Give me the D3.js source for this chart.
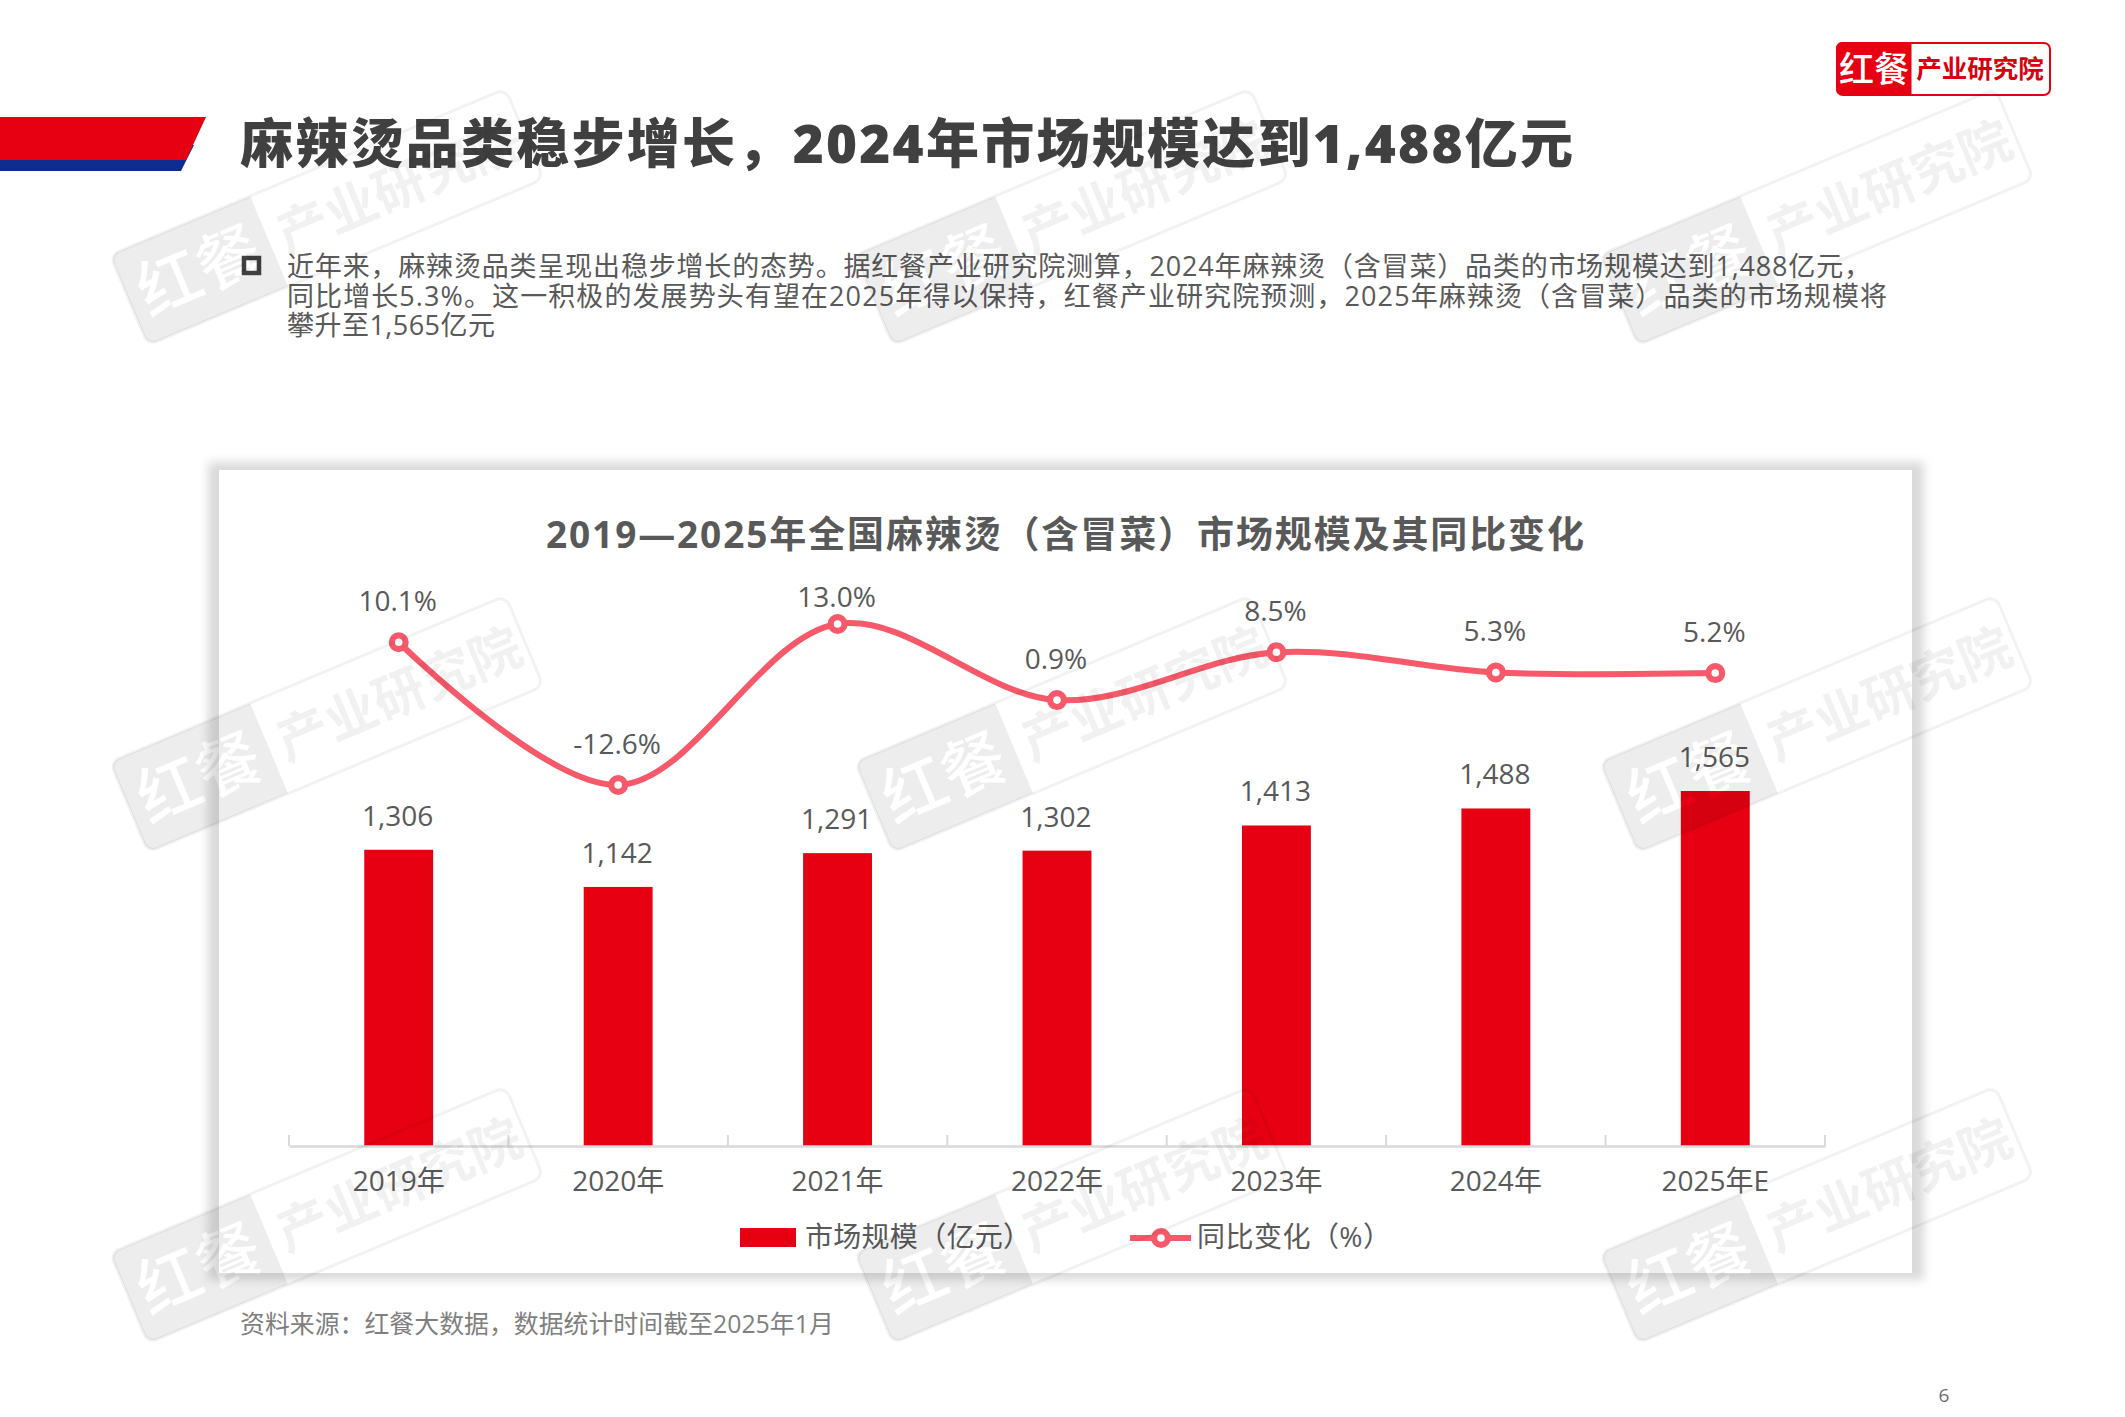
<!DOCTYPE html>
<html lang="zh"><head><meta charset="utf-8">
<script src="https://cdn.jsdelivr.net/npm/d3@7/dist/d3.min.js"></script>
<style>
html,body{margin:0;padding:0;background:#fff}
svg{display:block}
text{font-family:"Open Sans","Noto Sans CJK SC",sans-serif}
</style></head><body>
<svg id="c" width="2125" height="1417" viewBox="0 0 2125 1417"></svg>
<script>
const categories = ["2019年","2020年","2021年","2022年","2023年","2024年","2025年E"];
const marketSize = [1306,1142,1291,1302,1413,1488,1565];
const yoyChange = [10.1,-12.6,13.0,0.9,8.5,5.3,5.2];
const seriesNames = ["市场规模（亿元）","同比变化（%）"];
const pageTitle = "麻辣烫品类稳步增长，2024年市场规模达到1,488亿元";
const chartTitle = "2019—2025年全国麻辣烫（含冒菜）市场规模及其同比变化";
const bodyLines = [
 "近年来，麻辣烫品类呈现出稳步增长的态势。据红餐产业研究院测算，2024年麻辣烫（含冒菜）品类的市场规模达到1,488亿元，",
 "同比增长5.3%。这一积极的发展势头有望在2025年得以保持，红餐产业研究院预测，2025年麻辣烫（含冒菜）品类的市场规模将",
 "攀升至1,565亿元"];
const sourceNote = "资料来源：红餐大数据，数据统计时间截至2025年1月";

const RED="#E60012", BLUE="#0F2C8F", LINE="#F5596A";
const svg=d3.select("#c");
const defs=svg.append("defs");
defs.append("filter").attr("id","sh").attr("x","-5%").attr("y","-8%").attr("width","110%").attr("height","116%")
  .append("feGaussianBlur").attr("stdDeviation",5);

svg.append("rect").attr("width",2125).attr("height",1417).attr("fill","#fff");

// header band
const poly=(pts,fill)=>svg.append("polygon").attr("points",pts.map(p=>p.join(",")).join(" ")).attr("fill",fill);
poly([[0,150],[194,145],[181,171],[0,171]],BLUE);
poly([[0,117],[206,117],[186,160],[0,160]],RED);

svg.append("text").attr("x",240).attr("y",163).attr("font-size",53).attr("font-weight",900).attr("fill","#404040").attr("textLength",1333).attr("lengthAdjust","spacing").text(pageTitle);

// logo
svg.append("rect").attr("x",1837).attr("y",43).attr("width",213).attr("height",52).attr("rx",6).attr("fill","#fff").attr("stroke",RED).attr("stroke-width",2);
svg.append("path").attr("d","M1911.5,42 H1842 a6,6 0 0 0 -6,6 V89 a6,6 0 0 0 6,6 H1911.5 Z").attr("fill",RED);
svg.append("text").attr("x",1874).attr("y",82).attr("text-anchor","middle").attr("font-size",35).attr("font-weight",500).attr("fill","#fff").text("红餐");
svg.append("text").attr("x",1980).attr("y",78).attr("text-anchor","middle").attr("font-size",25.5).attr("font-weight",700).attr("fill","#D7000F").text("产业研究院");

// bullet + body
svg.append("rect").attr("x",244).attr("y",258).attr("width",15).attr("height",15).attr("fill","none").attr("stroke","#404040").attr("stroke-width",4.5);
const lineEnds=[1584,1600,208];
svg.append("g").selectAll("text").data(bodyLines).join("text")
  .attr("x",287).attr("y",(d,i)=>276+i*29.6).attr("font-size",27).attr("fill","#595959")
  .attr("textLength",(d,i)=>lineEnds[i]).attr("lengthAdjust","spacing").text(d=>d);

// panel with its wide grey shadow
svg.append("rect").attr("x",208).attr("y",462).attr("width",1716).attr("height",818).attr("fill","#DADADA").attr("filter","url(#sh)");
svg.append("rect").attr("x",219).attr("y",470).attr("width",1693).attr("height",803).attr("fill","#fff");
svg.append("text").attr("x",1065).attr("y",548).attr("text-anchor","middle").attr("font-size",37).attr("font-weight",700).attr("fill","#595959").attr("textLength",1038).attr("lengthAdjust","spacing").text(chartTitle);

// scales
const x=d3.scaleBand().domain(categories).range([289,1825]).padding(0);
const barW=x.bandwidth()*0.314;
const y=d3.scaleLinear().domain([0,1565]).range([1146,791]);
const yL=d3.scaleLinear().domain([-12.6,13.0]).range([785,624]);
const cx=d=>x(d)+x.bandwidth()/2;

// bars
svg.append("g").selectAll("rect").data(marketSize).join("rect")
  .attr("x",(d,i)=>cx(categories[i])-barW/2).attr("y",d=>y(d)).attr("width",barW).attr("height",d=>y(0)-y(d)).attr("fill",RED);

// axis
const ax=svg.append("g").attr("transform","translate(0,1146)").call(d3.axisBottom(x).tickSize(0).tickPadding(25));
ax.select(".domain").attr("stroke","#D9D9D9").attr("stroke-width",2.5);
ax.selectAll("text").attr("font-size",28).attr("fill","#595959").style("font-family",'"Open Sans","Noto Sans CJK SC",sans-serif');
ax.selectAll(".bound").data(d3.range(categories.length+1)).join("line").attr("class","bound")
  .attr("x1",i=>x.range()[0]+i*x.step()).attr("x2",i=>x.range()[0]+i*x.step()).attr("y1",-11).attr("y2",0).attr("stroke","#D9D9D9").attr("stroke-width",2);

// bar labels
svg.append("g").selectAll("text").data(marketSize).join("text")
  .attr("x",(d,i)=>cx(categories[i])-1).attr("y",d=>y(d)-24).attr("text-anchor","middle").attr("font-size",28).attr("fill","#595959").text(d3.format(","));

// line
const lineGen=d3.line().x((d,i)=>cx(categories[i])).y(d=>yL(d)).curve(d3.curveCatmullRom.alpha(0.5));
svg.append("path").attr("d",lineGen(yoyChange)).attr("fill","none").attr("stroke",LINE).attr("stroke-width",6);
svg.append("g").selectAll("circle").data(yoyChange).join("circle")
  .attr("cx",(d,i)=>cx(categories[i])).attr("cy",d=>yL(d)).attr("r",6.9).attr("fill","#fff").attr("stroke",LINE).attr("stroke-width",6.2);
const maxY=d3.max(yoyChange);
svg.append("g").selectAll("text").data(yoyChange).join("text")
  .attr("x",(d,i)=>cx(categories[i])-1).attr("y",d=>yL(d)-(d===maxY?17:31)).attr("text-anchor","middle").attr("font-size",28).attr("fill","#595959")
  .text(d=>d.toFixed(1)+"%");

// legend
svg.append("rect").attr("x",740).attr("y",1228).attr("width",56).attr("height",19).attr("fill",RED);
svg.append("text").attr("x",805).attr("y",1247).attr("font-size",28).attr("fill","#595959").attr("textLength",226).attr("lengthAdjust","spacing").text(seriesNames[0]);
svg.append("line").attr("x1",1130).attr("x2",1191).attr("y1",1238).attr("y2",1238).attr("stroke",LINE).attr("stroke-width",6);
svg.append("circle").attr("cx",1161).attr("cy",1238).attr("r",6.9).attr("fill","#fff").attr("stroke",LINE).attr("stroke-width",6.2);
svg.append("text").attr("x",1197).attr("y",1247).attr("font-size",28).attr("fill","#595959").attr("textLength",194).attr("lengthAdjust","spacing").text(seriesNames[1]);

// source + page
svg.append("text").attr("x",240).attr("y",1333).attr("font-size",24.9).attr("fill","#7F7F7F").text(sourceNote);
svg.append("text").attr("x",1944).attr("y",1402).attr("text-anchor","middle").attr("font-size",19).attr("fill","#6e6e6e").text("6");

// watermark: the left block has its letters knocked out
const mask=defs.append("mask").attr("id","wmBlock").attr("maskUnits","userSpaceOnUse").attr("x",0).attr("y",0).attr("width",160).attr("height",98);
mask.append("rect").attr("width",160).attr("height",98).attr("fill","#fff");
mask.append("text").attr("x",76).attr("y",72).attr("text-anchor","middle").attr("font-size",64).attr("font-weight",500).attr("fill","#000").text("红餐");
const wm=svg.append("g").attr("pointer-events","none");
const tileRows=[255,762,1253], tileCols=[110,855,1600];
tileRows.forEach(ty=>tileCols.forEach(tx=>{
  const g=wm.append("g").attr("transform",`translate(${tx},${ty}) rotate(-22.8)`);
  g.append("rect").attr("width",429).attr("height",98).attr("rx",10).attr("fill","none").attr("stroke","#000").attr("stroke-opacity",0.05).attr("stroke-width",3);
  g.append("path").attr("d","M10,0 H152 V98 H10 a10,10 0 0 1 -10,-10 V10 a10,10 0 0 1 10,-10 Z").attr("fill","#000").attr("fill-opacity",0.07).attr("mask","url(#wmBlock)");
  g.append("text").attr("x",293).attr("y",68).attr("text-anchor","middle").attr("font-size",52).attr("font-weight",700).attr("fill","#000").attr("fill-opacity",0.055).text("产业研究院");
}));
</script></body></html>
